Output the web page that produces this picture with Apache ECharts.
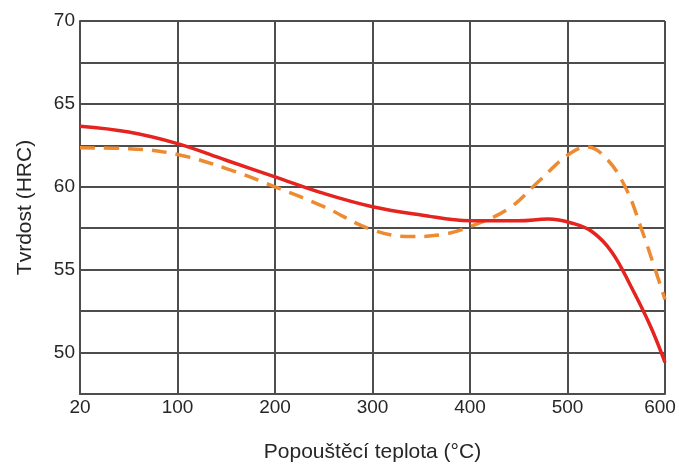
<!DOCTYPE html>
<html>
<head>
<meta charset="utf-8">
<style>
  html, body { margin: 0; padding: 0; background: #fff; }
  #chart { width: 679px; height: 469px; }
</style>
<script src="https://cdn.jsdelivr.net/npm/echarts@6/dist/echarts.min.js"></script>
</head>
<body>
<div id="chart"></div>
<script>
'use strict';

// x tick labels (the first tick, 20 °C, sits where 0 would be)
const xTickLabels = ['20', '100', '200', '300', '400', '500', '600'];

// Solid curve: [axis position, HRC]
const solidPoints = [
    [0, 63.65], [50, 63.3], [100, 62.6], [150, 61.6], [200, 60.6],
    [250, 59.6], [300, 58.8], [350, 58.3], [400, 57.95], [450, 57.95],
    [480, 58.05], [505, 57.8], [525, 57.3], [545, 56.1], [565, 54.0],
    [585, 51.6], [600, 49.4]
];

// Dashed curve: [axis position, HRC]
const dashedPoints = [
    [0, 62.35], [50, 62.3], [100, 61.95], [150, 61.1], [200, 60.0],
    [250, 58.8], [300, 57.4], [340, 57.0], [370, 57.1], [400, 57.6],
    [440, 58.7], [470, 60.3], [500, 61.9], [520, 62.4], [540, 61.7],
    [560, 59.9], [575, 57.6], [590, 55.0], [600, 53.2]
];

const gridColor = '#4d4d4d';
const labelColor = '#262626';

const chart = echarts.init(document.getElementById('chart'));

chart.setOption({
    animation: false,
    textStyle: {
        fontFamily: 'Liberation Sans, Arial, sans-serif'
    },
    grid: {
        left: 80,
        right: 14,
        top: 21,
        bottom: 75,
        containLabel: false,
        outerBoundsMode: 'none'
    },
    xAxis: {
        type: 'value',
        min: 0,
        max: 600,
        interval: 100,
        name: 'Popouštěcí teplota (°C)',
        nameLocation: 'middle',
        nameGap: 48,
        nameTextStyle: { fontSize: 21, color: labelColor },
        axisLine: { show: true, lineStyle: { color: gridColor, width: 2 } },
        axisTick: { show: false },
        axisLabel: {
            fontSize: 19,
            color: labelColor,
            margin: 4,
            formatter: v => {
                const i = Math.round(v / 100);
                // last label sits a bit left of its grid line
                return i === xTickLabels.length - 1 ? '{last|' + xTickLabels[i] + '}' : xTickLabels[i];
            },
            rich: {
                last: { fontSize: 19, color: labelColor, padding: [0, 10, 0, 0] }
            }
        },
        splitLine: { show: true, lineStyle: { color: gridColor, width: 2 } }
    },
    yAxis: {
        type: 'value',
        min: 47.5,
        max: 70,
        interval: 2.5,
        name: 'Tvrdost (HRC)',
        nameLocation: 'middle',
        nameGap: 44,
        nameTextStyle: { fontSize: 21, color: labelColor },
        axisLine: { show: true, lineStyle: { color: gridColor, width: 2 } },
        axisTick: { show: false },
        axisLabel: {
            fontSize: 19,
            color: labelColor,
            margin: 5,
            formatter: v => (v % 5 === 0 ? String(v) : '')
        },
        splitLine: { show: true, lineStyle: { color: gridColor, width: 2 } }
    },
    series: [
        {
            name: 'dashed',
            type: 'line',
            smooth: 0.4,
            symbol: 'none',
            data: dashedPoints,
            lineStyle: { color: '#ee8a30', width: 3.5, type: [15, 9] },
            z: 3
        },
        {
            name: 'solid',
            type: 'line',
            smooth: 0.4,
            symbol: 'none',
            data: solidPoints,
            lineStyle: { color: '#e5231f', width: 3.5 },
            z: 4
        }
    ]
});
</script>
</body>
</html>
